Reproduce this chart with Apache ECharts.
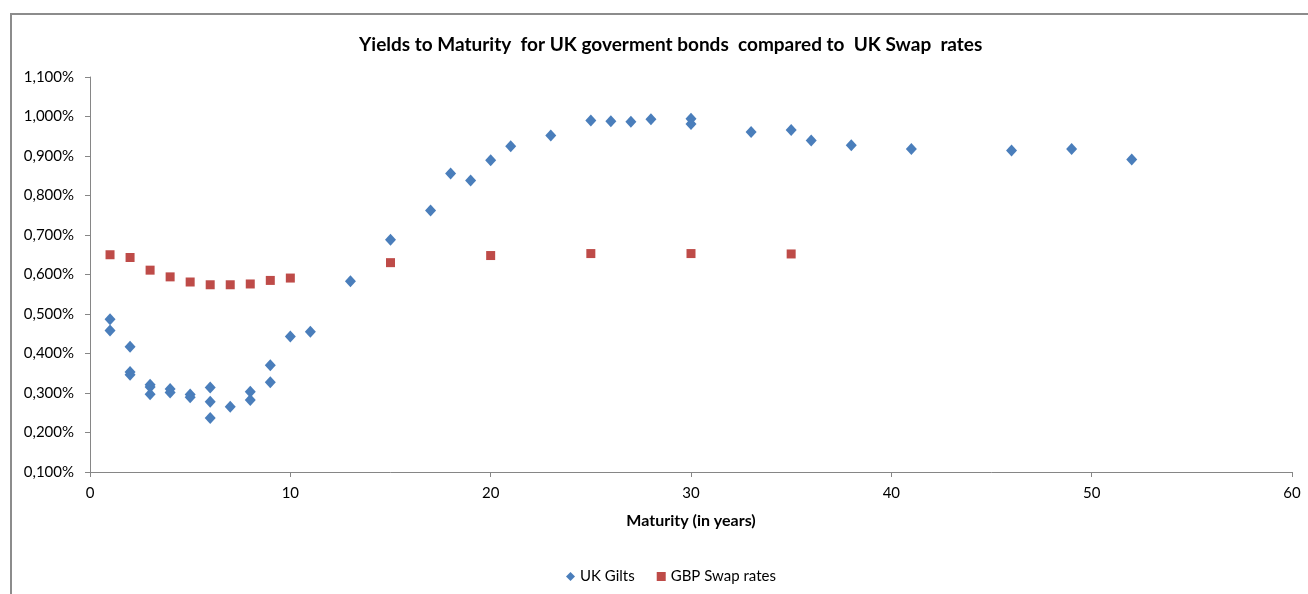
<!DOCTYPE html>
<html>
<head>
<meta charset="utf-8">
<script src="https://cdn.jsdelivr.net/npm/echarts@6/dist/echarts.min.js"></script>
<style>
  html, body { margin: 0; padding: 0; background: #fff; }
  #chart { width: 1308px; height: 594px; }
</style>
</head>
<body>
<div id="chart"></div>
<script>
// Gilt yields (%) by maturity in years
const giltMaturity = [1, 1, 2, 2, 2, 3, 3, 3, 4, 4, 5, 5, 6, 6, 6, 7, 8, 8, 9, 9, 10, 11, 13, 15, 17, 18, 19, 20, 21, 23, 25, 26, 27, 28, 30, 30, 33, 35, 36, 38, 41, 46, 49, 52];
const giltYield = [0.487, 0.458, 0.417, 0.353, 0.346, 0.321, 0.315, 0.297, 0.310, 0.301, 0.296, 0.289, 0.314, 0.278, 0.237, 0.265, 0.303, 0.282, 0.370, 0.327, 0.443, 0.455, 0.583, 0.688, 0.762, 0.856, 0.838, 0.889, 0.925, 0.952, 0.990, 0.988, 0.987, 0.993, 0.994, 0.981, 0.961, 0.966, 0.939, 0.927, 0.918, 0.914, 0.918, 0.891];

// GBP swap rates (%) by tenor in years
const swapMaturity = [1, 2, 3, 4, 5, 6, 7, 8, 9, 10, 15, 20, 25, 30, 35];
const swapRate = [0.650, 0.643, 0.611, 0.594, 0.581, 0.574, 0.574, 0.576, 0.585, 0.591, 0.630, 0.648, 0.653, 0.653, 0.652];

const seriesNames = ['UK Gilts', 'GBP Swap rates'];
const titleText = 'Yields to Maturity  for UK goverment bonds  compared to  UK Swap  rates';
const xAxisTitle = 'Maturity (in years)';

const pair = (xs, ys) => xs.map((x, i) => [x, ys[i]]);
const FONT = 'Lato, "Open Sans", sans-serif';
const AXIS_GREY = '#868686';

const chart = echarts.init(document.getElementById('chart'), null, { renderer: 'canvas' });

chart.setOption({
  animation: false,
  backgroundColor: '#fff',
  textStyle: { fontFamily: FONT },
  title: {
    text: titleText,
    left: 354,
    top: 30,
    textStyle: { fontFamily: FONT, fontSize: 19, fontWeight: 'bold', color: '#000' }
  },
  graphic: [
    {
      type: 'polyline',
      silent: true,
      shape: { points: [[11, 594], [11, 14], [1308, 14]] },
      style: { stroke: '#8c8c8c', lineWidth: 2, fill: null }
    }
  ],
  legend: {
    data: [
      { name: seriesNames[0], icon: 'diamond' },
      { name: seriesNames[1], icon: 'rect' }
    ],
    left: 561,
    top: 564,
    itemWidth: 9,
    itemHeight: 9,
    itemGap: 22,
    textStyle: { fontFamily: FONT, fontSize: 15, color: '#000' }
  },
  grid: { left: 90, right: 16, top: 77, bottom: 122, containLabel: false },
  xAxis: {
    type: 'value',
    min: 0,
    max: 60,
    interval: 10,
    name: xAxisTitle,
    nameLocation: 'middle',
    nameGap: 41,
    nameTextStyle: { fontFamily: FONT, fontSize: 16, fontWeight: 'bold', color: '#000' },
    axisLine: { onZero: false, lineStyle: { color: AXIS_GREY, width: 1 } },
    axisTick: { show: true, inside: false, length: 5, lineStyle: { color: AXIS_GREY } },
    axisLabel: { fontFamily: FONT, fontSize: 15, color: '#000', margin: 14 },
    splitLine: { show: false }
  },
  yAxis: {
    type: 'value',
    min: 0.1,
    max: 1.1,
    interval: 0.1,
    axisLine: { show: true, lineStyle: { color: AXIS_GREY, width: 1 } },
    axisTick: { show: true, inside: false, length: 5, lineStyle: { color: AXIS_GREY } },
    axisLabel: {
      fontFamily: FONT,
      fontSize: 15,
      color: '#000',
      margin: 16,
      formatter: v => v.toFixed(3).replace('.', ',') + '%'
    },
    splitLine: { show: false }
  },
  series: [
    {
      name: seriesNames[0],
      type: 'scatter',
      symbol: 'diamond',
      symbolSize: [11, 12],
      itemStyle: { color: '#4A7EBB', opacity: 1 },
      data: pair(giltMaturity, giltYield),
      z: 3
    },
    {
      name: seriesNames[1],
      type: 'scatter',
      symbol: 'rect',
      symbolSize: 9,
      itemStyle: { color: '#BE4B48', opacity: 1 },
      data: pair(swapMaturity, swapRate),
      z: 2
    }
  ]
});
</script>
</body>
</html>
